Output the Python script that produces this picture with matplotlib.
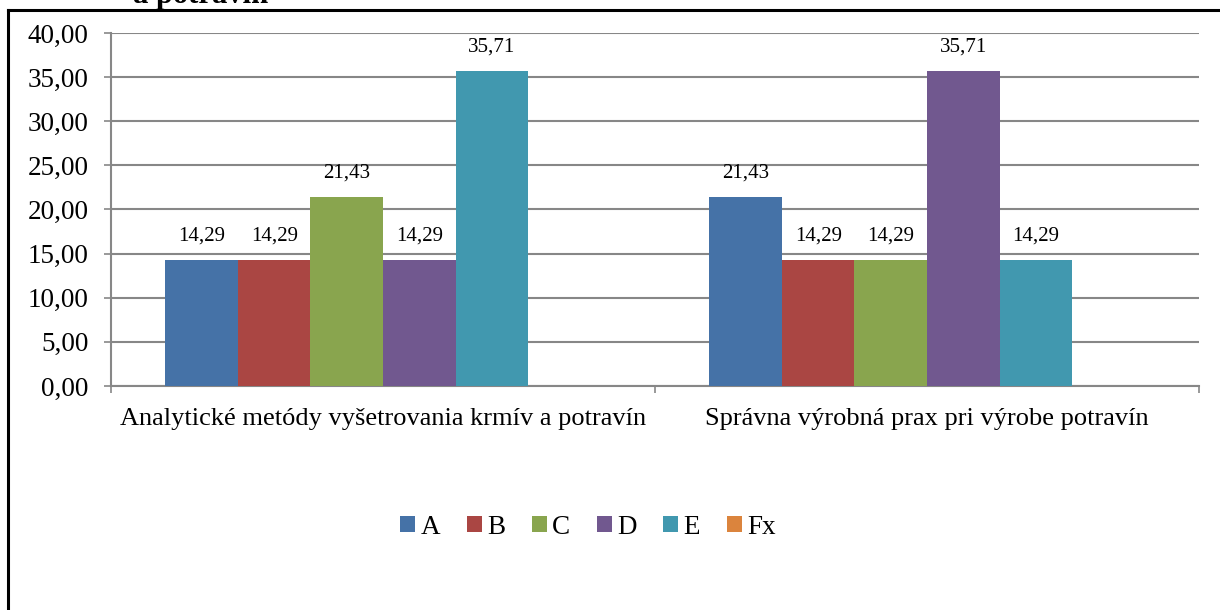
import matplotlib
matplotlib.use("Agg")
import matplotlib.pyplot as plt
from matplotlib.lines import Line2D
from matplotlib.patches import Patch
import numpy as np

categories = ["Analytické metódy vyšetrovania krmív a potravín",
              "Správna výrobná prax pri výrobe potravín"]
series = ["A", "B", "C", "D", "E", "Fx"]
values = {
    "A": [14.29, 21.43],
    "B": [14.29, 14.29],
    "C": [21.43, 14.29],
    "D": [14.29, 35.71],
    "E": [35.71, 14.29],
    "Fx": [np.nan, np.nan],
}
colors = ["#4572A7", "#AA4643", "#89A54E", "#71588F", "#4198AF", "#DB843D"]
yticks = [0, 5, 10, 15, 20, 25, 30, 35, 40]
title_text = "a potravín"

plt.rcParams['font.family'] = ['Liberation Serif', 'DejaVu Serif']

W, H = 1220, 610
fig = plt.figure(figsize=(W / 100, H / 100), dpi=100)
ax = fig.add_axes([111 / W, 1 - 386 / H, (1199 - 111) / W, (386 - 33) / H])

n = len(series)
gap = 1.5
bw = 1.0 / (n + gap)
x = np.arange(len(categories))
for i, (s, c) in enumerate(zip(series, colors)):
    offs = (i - (n - 1) / 2) * bw
    vals = np.array(values[s], dtype=float)
    ax.bar(x + offs, np.nan_to_num(vals), width=bw, color=c, edgecolor='none', zorder=3)
    for xi, v in zip(x + offs, vals):
        if not np.isnan(v):
            ax.annotate(f"{v:.2f}".replace(".", ","), (xi, v), xytext=(0, 10),
                        textcoords='offset points', ha='center', va='bottom',
                        fontsize=15, color='black')

ax.set_xlim(-0.5, len(categories) - 0.5)
ax.set_ylim(0, 40)
ax.set_yticks(yticks)
ax.set_yticklabels([f"{v:.2f}".replace(".", ",") for v in yticks], fontsize=19.5)
ax.yaxis.grid(True, color='#878787', linewidth=1.5, zorder=0)
ax.set_axisbelow(True)
ax.tick_params(axis='y', length=5, width=1.2, color='#878787', pad=11)

ax.set_xticks(x)
ax.set_xticklabels(categories, fontsize=19)
ax.tick_params(axis='x', length=0, pad=16)
# category boundary ticks
ax.set_xticks(np.arange(len(categories) + 1) - 0.5, minor=True)
ax.tick_params(axis='x', which='minor', length=5, width=1.2, color='#878787')

for sp in ['top', 'right']:
    ax.spines[sp].set_visible(False)
for sp in ['left', 'bottom']:
    ax.spines[sp].set_color('#878787')
    ax.spines[sp].set_linewidth(1.5)

handles = [Patch(facecolor=c, edgecolor='none') for c in colors]
fig.legend(handles, series, loc='center', bbox_to_anchor=(588 / W, 1 - 527 / H),
           ncol=n, frameon=False, fontsize=19.5, handlelength=0.55, handleheight=0.55,
           handletextpad=0.2, columnspacing=0.98)

# outer frame
fig.add_artist(Line2D([8 / W, 8 / W], [0, 1 - 10 / H], color='black', linewidth=2.2,
                      transform=fig.transFigure))
fig.add_artist(Line2D([8 / W, 1], [1 - 10 / H, 1 - 10 / H], color='black', linewidth=2.2,
                      transform=fig.transFigure))

fig.text(133 / W, 1 - 3 / H, title_text, fontsize=22, fontweight='bold',
         ha='left', va='baseline')

fig.savefig("out.png", dpi=100)
